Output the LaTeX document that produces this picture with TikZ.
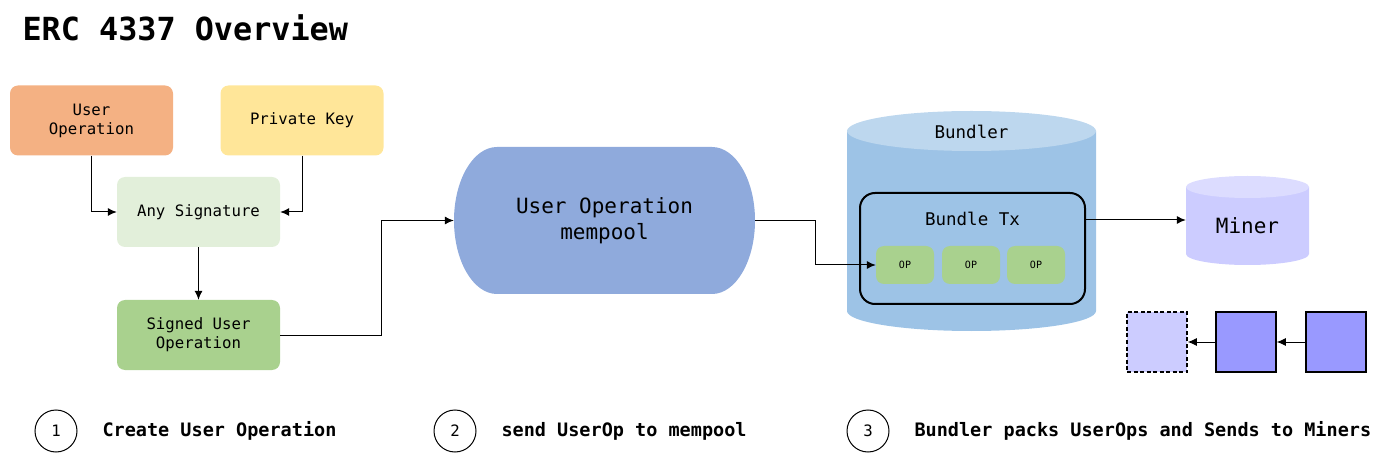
\documentclass[tikz,border=0pt]{standalone}
\usepackage{fontspec}
\setmonofont{DejaVu Sans Mono}
\usetikzlibrary{arrows.meta}
\definecolor{opOrange}{HTML}{F4B183}
\definecolor{keyYellow}{HTML}{FFE699}
\definecolor{sigLight}{HTML}{E2EFDA}
\definecolor{sigGreen}{HTML}{A9D18E}
\definecolor{poolBlue}{HTML}{8FAADC}
\definecolor{bundBody}{HTML}{9DC3E6}
\definecolor{bundTop}{HTML}{BDD7EE}
\definecolor{minerBody}{HTML}{CCCCFF}
\definecolor{minerTop}{HTML}{DCDCFF}
\definecolor{chainBlue}{HTML}{9999FF}

\begin{document}
\begin{tikzpicture}[x=1pt, y=-1pt,
  every node/.style={font=\ttfamily\fontsize{15.7}{19}\selectfont},
  box/.style={rounded corners=8pt, minimum width=163pt, minimum height=70pt, align=center, inner sep=0pt},
  opbox/.style={fill=sigGreen, rounded corners=8pt, minimum width=58pt, minimum height=38pt, inner sep=0pt, font=\ttfamily\fontsize{10}{12}\selectfont},
  blk/.style={draw, line width=1.5pt, minimum size=60pt, inner sep=0pt},
  stepnum/.style={circle, draw, line width=1pt, minimum size=42pt, inner sep=0pt},
  steptext/.style={anchor=west, font=\ttfamily\bfseries\fontsize{18.5}{22}\selectfont},
  link/.style={-{Latex[length=9pt,width=8pt]}, line width=1pt}]
  \useasboundingbox (0,0) rectangle (1400,454);

  % Title
  \node[anchor=west, font=\ttfamily\bfseries\fontsize{31.8}{36}\selectfont] (title) at (19,28) {ERC 4337 Overview};

  % Step 1: build and sign the user operation
  \node[box, fill=opOrange] (userop) at (91.5,120.5) {User\\Operation};
  \node[box, fill=keyYellow] (privkey) at (302,120.5) {Private Key};
  \node[box, fill=sigLight] (anysig) at (198.5,212) {Any Signature};
  \node[box, fill=sigGreen] (signed) at (198.5,335) {Signed User\\Operation};
  \draw[link] (userop.south) |- (anysig.west);
  \draw[link] (privkey.south) |- (anysig.east);
  \draw[link] (anysig) -- (signed);

  % Step 2: mempool
  \fill[poolBlue] (497,147) -- (712,147)
    arc[start angle=90, end angle=-90, x radius=43pt, y radius=73.5pt] -- (497,294)
    arc[start angle=270, end angle=90, x radius=43pt, y radius=73.5pt] -- cycle;
  \node[minimum width=301pt, minimum height=147pt, inner sep=0pt, align=center,
    font=\ttfamily\fontsize{21}{26}\selectfont] (mempool) at (604.5,220.5) {User Operation\\mempool};
  \draw[link] (signed.east) -- ++(101,0) |- (mempool.west);

  % Step 3: bundler
  \fill[bundBody] (847,131) -- (847,311)
    arc[start angle=180, end angle=360, x radius=124.5pt, y radius=20pt] -- (1096,131) -- cycle;
  \fill[bundTop] (971.5,131) ellipse[x radius=124.5pt, y radius=20pt];
  \node[font=\ttfamily\fontsize{17.5}{21}\selectfont] (bundler) at (971.5,132) {Bundler};
  \node[draw, line width=2pt, rounded corners=15pt, minimum width=225pt, minimum height=111pt] (bundletx) at (972.5,248.5) {};
  \node[font=\ttfamily\fontsize{17.5}{21}\selectfont] (txlabel) at (972.5,219) {Bundle Tx};
  \foreach \i/\x in {1/905, 2/971, 3/1036} {
    \node[opbox] (op\i) at (\x,265) {OP};
  }
  \draw[link] (mempool.east) -- ++(60,0) |- (op1.west);

  % Miner
  \fill[minerBody] (1186,187) -- (1186,254)
    arc[start angle=180, end angle=360, x radius=61.5pt, y radius=11pt] -- (1309,187) -- cycle;
  \fill[minerTop] (1247.5,187) ellipse[x radius=61.5pt, y radius=11pt];
  \node[minimum width=123pt, minimum height=80pt, inner sep=0pt] (miner) at (1247.5,220) {};
  \node[font=\ttfamily\fontsize{21}{25}\selectfont] (minerlabel) at (1247.5,226) {Miner};
  \draw[link] (miner.west -| bundletx.east) -- (miner.west);

  % Chain of blocks
  \node[blk, fill=minerBody, dash pattern=on 4pt off 2.5pt] (blk0) at (1157,342) {};
  \node[blk, fill=chainBlue] (blk1) at (1246,342) {};
  \node[blk, fill=chainBlue] (blk2) at (1336,342) {};
  \draw[link] (blk2) -- (blk1);
  \draw[link] (blk1) -- (blk0);

  % Step legend
  \node[stepnum] (step1) at (56,431) {1};
  \node[steptext] (stepA) at (99,431) {Create User Operation};
  \node[stepnum] (step2) at (455,431) {2};
  \node[steptext] (stepB) at (498,431) {send UserOp to mempool};
  \node[stepnum] (step3) at (868,431) {3};
  \node[steptext] (stepC) at (911,431) {Bundler packs UserOps and Sends to Miners};
\end{tikzpicture}
\end{document}
